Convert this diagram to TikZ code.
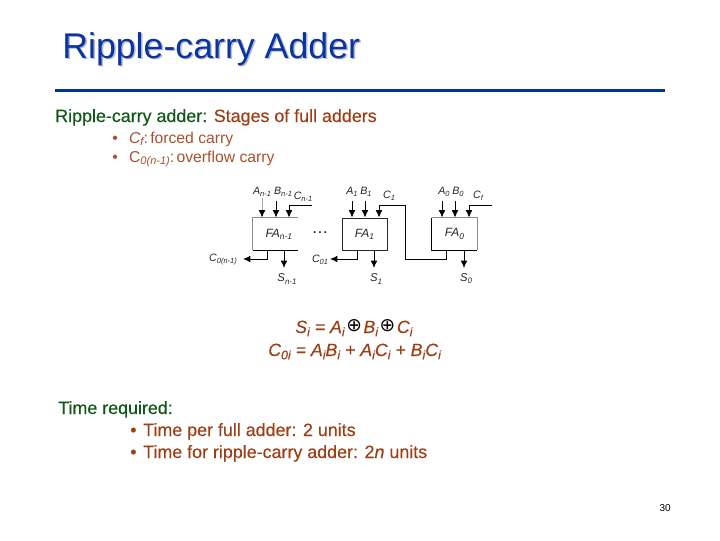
\documentclass[tikz,border=0pt]{standalone}
\usepackage{fontspec}
\setmainfont{Liberation Sans}
\newfontfamily\symfont{DejaVu Sans}
\newfontfamily\heavyfont[FakeBold=0.35]{Liberation Sans}
\usepackage{xcolor}
\usetikzlibrary{arrows.meta,calc}
\definecolor{slideblue}{RGB}{12,52,160}
\definecolor{slideshadow}{RGB}{176,186,214}
\definecolor{rulecolor}{RGB}{0,51,153}
\definecolor{headgreen}{RGB}{16,88,24}
\definecolor{bodybrown}{RGB}{158,62,22}
\definecolor{wiregray}{RGB}{40,40,40}
\newcommand{\lo}[1]{\raisebox{-.35ex}{\scalebox{.7}{#1}}}
\newcommand{\xor}{\kern1.2pt\raisebox{.2ex}{\textcolor{black}{\symfont\fontsize{14}{14}\selectfont ⊕}}\kern1.2pt}
\tikzset{
  txt/.style={anchor=base west,inner sep=0pt,font=\fontsize{11.8}{14}\selectfont,text=bodybrown!90},
  headtxt/.style={anchor=base west,inner sep=0pt,font=\fontsize{13.4}{16}\heavyfont,text=bodybrown},
  eqtxt/.style={anchor=base west,inner sep=0pt,font=\fontsize{13.3}{16}\heavyfont\itshape,text=bodybrown},
  fabox/.style={draw=wiregray,line width=.7pt,minimum width=33.75pt,minimum height=24pt,inner sep=0pt,font=\fontsize{9}{10}\selectfont\itshape,text=black!85},
  sig/.style={inner sep=0pt,font=\fontsize{8}{10}\selectfont\itshape,text=black!85},
  wire/.style={draw=black,line width=.7pt},
  arrowwire/.style={wire,-{Latex[length=5.5pt,width=5pt,black]}},
  softedge/.style={draw=black!45,line width=.7pt},
}
\begin{document}
\begin{tikzpicture}[x=0.75pt,y=-0.75pt]
\useasboundingbox (0,0) rectangle (720,540);
% title
\node[anchor=base west,inner sep=0pt,font=\fontsize{26.8}{30}\selectfont,text=slideshadow] (titleshadow) at (63.5,59.5) {Ripple-carry Adder};
\node[anchor=base west,inner sep=0pt,font=\fontsize{26.8}{30}\selectfont,text=slideblue] (title) at (62,58) {Ripple-carry Adder};
\coordinate (ruleleft) at (55,90);
\coordinate (ruleright) at (665,90);
\draw[rulecolor,line width=2.25pt] (ruleleft) -- (ruleright);
% text above the adder
\node[headtxt] (intro) at (55,122) {\textcolor{headgreen}{Ripple-carry adder:} Stages of full adders};
\node[txt] (bulletf) at (112,143) {•\kern 8.5pt\textit{C\lo{f}}:\kern-1.5pt\ forced carry};
\node[txt] (bulleto) at (112,162) {•\kern 8.5pt C\lo{\textit{0(n-1)}}:\kern-1.5pt\ overflow carry};
% full adders
\node[fabox,draw=none] (fan) at (275.5,234) {\kern5pt FA\lo{n-1}};
\node[fabox] (faone) at (364.5,234) {FA\lo{1}};
\node[fabox,draw=none] (fazero) at (454.5,234) {FA\lo{0}};
\draw[softedge] (fan.south west) -- (fan.north west) -- (fan.north east);
\draw[wire] (fan.south west) -- (fan.south east);
\draw[softedge] (fazero.north west) -- (fazero.north east) -- (fazero.south east);
\draw[wire] (fazero.north west) -- (fazero.south west) -- (fazero.south east);
\node[sig,font=\fontsize{9}{9}\selectfont\bfseries] (dots) at (320,233) {.\kern1.5pt.\kern1.5pt.};
% labels
\node[sig] (an) at (262,192) {A\lo{n-1}};
\node[sig] (bn) at (283,192) {B\lo{n-1}};
\node[sig] (cn) at (303,197) {C\lo{n-1}};
\node[sig] (aone) at (352,192) {A\lo{1}};
\node[sig] (bone) at (366,192) {B\lo{1}};
\node[sig] (cone) at (389,196) {C\lo{1}};
\node[sig] (azero) at (444,192) {A\lo{0}};
\node[sig] (bzero) at (458,192) {B\lo{0}};
\node[sig] (czero) at (478,196) {C\lo{f}};
\node[sig] (outn) at (223,260) {C\lo{0(n-1)}};
\node[sig] (outone) at (320,260) {C\lo{01}};
\node[sig,font=\fontsize{8.5}{10}\selectfont\itshape] (sn) at (287,279) {S\lo{n-1}};
\node[sig,font=\fontsize{8.5}{10}\selectfont\itshape] (sone) at (376,279) {S\lo{1}};
\node[sig,font=\fontsize{8.5}{10}\selectfont\itshape] (szero) at (466,279) {S\lo{0}};
% named points on the wires
\coordinate (cnin) at (289,205.5);
\coordinate (cnend) at (312,205.5);
\coordinate (coneup) at (379,205.5);
\coordinate (coneright) at (405.7,205.5);
\coordinate (conedown) at (405.7,259);
\coordinate (conezero) at (446.7,259);
\coordinate (czeroup) at (469,205.5);
\coordinate (czeroend) at (492,205.5);
\coordinate (outnup) at (267,259);
\coordinate (outnend) at (243,259);
\coordinate (outoneup) at (357,259);
\coordinate (outoneend) at (330,259);
% inputs
\foreach \xp/\bx in {276/fan,352/faone,365/faone,442/fazero,455/fazero}{
  \coordinate (infree) at (\xp,201);
  \draw[arrowwire] (infree) -- (infree |- \bx.north);
}
\coordinate (anfree) at (262,198);
\draw[arrowwire,draw=black!35] (anfree) -- (anfree |- fan.north);
\draw[wire] (cnend) -- (cnin);
\draw[arrowwire] (cnin) -- (cnin |- fan.north);
\draw[arrowwire] (czeroend) -- (czeroup) -- (czeroup |- fazero.north);
% carries
\draw[arrowwire] (conezero |- fazero.south) -- (conezero) -- (conedown) -- (coneright) -- (coneup) -- (coneup |- faone.north);
\draw[arrowwire] (outoneup |- faone.south) -- (outoneup) -- (outoneend);
\draw[arrowwire] (outnup |- fan.south) -- (outnup) -- (outnend);
% sums
\foreach \xp/\bx in {284/fan,374/faone,464/fazero}{
  \coordinate (sumfree) at (\xp,268);
  \draw[arrowwire] (sumfree |- \bx.south) -- (sumfree);
}
% equations
\node[eqtxt] (sumeq) at (295,333) {S\lo{i} = A\lo{i}\xor B\lo{i}\xor C\lo{i}};
\node[eqtxt] (carryeq) at (268,356) {C\lo{0i} = A\lo{i}B\lo{i} + A\lo{i}C\lo{i} + B\lo{i}C\lo{i}};
% time
\node[headtxt,text=headgreen] (timehead) at (58,414) {Time required:};
\node[headtxt] (timeone) at (130,436) {•\kern 5pt Time per full adder: 2 units};
\node[headtxt] (timetwo) at (130,458) {•\kern 5pt Time for ripple-carry adder: 2\textit{n} units};
\node[anchor=base east,inner sep=0pt,font=\fontsize{7.5}{9}\selectfont] (pagenum) at (671,511) {30};
\end{tikzpicture}
\end{document}
